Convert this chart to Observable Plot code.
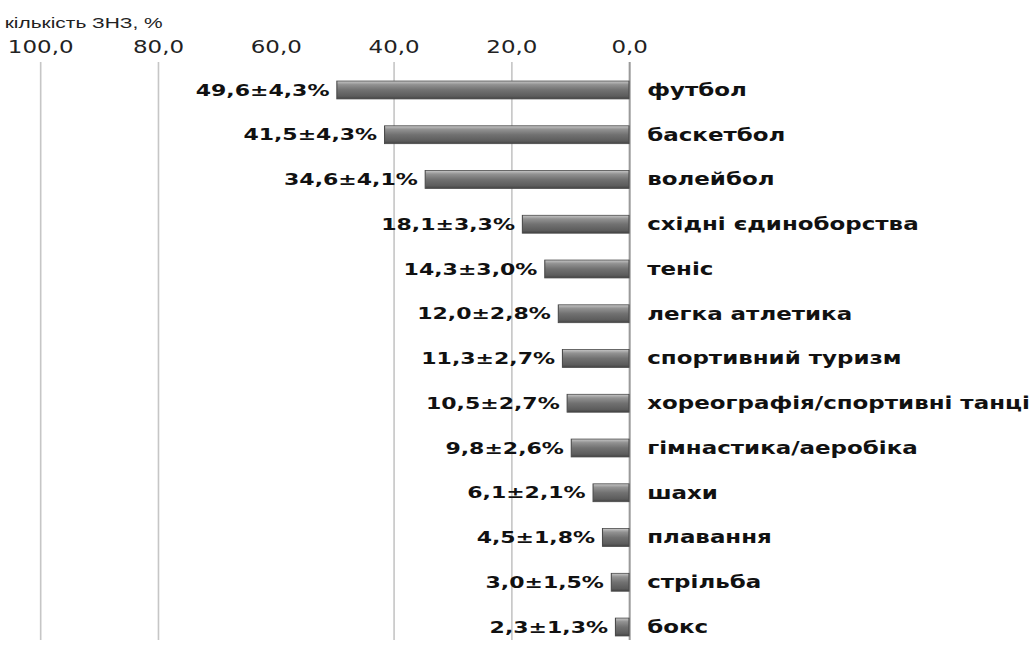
<!DOCTYPE html>
<html>
<head>
<meta charset="utf-8">
<script src="https://cdn.jsdelivr.net/npm/d3@7"></script>
<script src="https://cdn.jsdelivr.net/npm/@observablehq/plot@0.6"></script>
<style>
  html, body { margin: 0; padding: 0; background: #fff; }
  #chart { width: 1032px; height: 645px; overflow: hidden; }
</style>
</head>
<body>
<div id="chart"></div>
<script>
const sports = ["футбол", "баскетбол", "волейбол", "східні єдиноборства", "теніс", "легка атлетика", "спортивний туризм", "хореографія/спортивні танці", "гімнастика/аеробіка", "шахи", "плавання", "стрільба", "бокс"];
const values = [49.6, 41.5, 34.6, 18.1, 14.3, 12.0, 11.3, 10.5, 9.8, 6.1, 4.5, 3.0, 2.3];
const errors = [4.3, 4.3, 4.1, 3.3, 3.0, 2.8, 2.7, 2.7, 2.6, 2.1, 1.8, 1.5, 1.3];
const tickValues = [100, 80, 60, 40, 20, 0];
const gridValues = [100, 80, 40, 20];
const axisTitle = "кількість ЗНЗ, %";

const fmt = v => v.toFixed(1).replace(".", ",");
const data = sports.map((s, i) => ({sport: s, value: values[i], label: `${fmt(values[i])}±${fmt(errors[i])}%`}));

// The reference is horizontally stretched; design in narrower coords and stretch
const SX = 1.35;
const W = 1032 / SX;

const defs = () => {
  const ns = "http://www.w3.org/2000/svg";
  const d = document.createElementNS(ns, "defs");
  d.innerHTML = `<linearGradient id="barGrad" x1="0" y1="0" x2="0" y2="1">
    <stop offset="0" stop-color="#c8c8c8"/>
    <stop offset="0.2" stop-color="#929292"/>
    <stop offset="0.5" stop-color="#717171"/>
    <stop offset="0.85" stop-color="#5c5c5c"/>
    <stop offset="1" stop-color="#424242"/>
  </linearGradient>`;
  return d;
};

const svg = Plot.plot({
  width: W,
  height: 645,
  marginLeft: 40 / SX,
  marginRight: (1032 - 629) / SX,
  marginTop: 62,
  marginBottom: 5,
  style: {fontFamily: "DejaVu Sans", background: "#fff"},
  x: {domain: [100, 0], range: [40 / SX, 629 / SX]},
  y: {domain: sports, range: [67.6, 649.4], paddingInner: 0.6, paddingOuter: 0.3, round: false, axis: null},
  marks: [
    defs,
    Plot.ruleX(gridValues, {stroke: "#c6c6c6", strokeWidth: 1.2}),
    Plot.ruleX([0], {stroke: "#9a9a9a", strokeWidth: 1.5}),
    Plot.axisX({anchor: "top", ticks: tickValues, tickSize: 0, tickPadding: 10, tickFormat: fmt, fontSize: 17, fill: "#222", label: null}),
    Plot.barX(data, {x: "value", y: "sport", fill: "url(#barGrad)", stroke: "#4a4a4a", strokeWidth: 0.8}),
    Plot.text(data, {x: "value", y: "sport", text: "label", textAnchor: "end", dx: -6, fontSize: 16.3, fontWeight: "bold", fill: "#111"}),
    Plot.text(data, {x: 0, y: "sport", text: "sport", textAnchor: "start", dx: 13, fontSize: 17, fontWeight: "bold", fill: "#111"}),
    Plot.text([axisTitle], {frameAnchor: "top-left", dx: 4 / SX - 40 / SX, dy: -46, text: d => d, textAnchor: "start", fontSize: 15.5, fontFamily: "Liberation Sans", fill: "#222"})
  ]
});

svg.setAttribute("width", 1032);
svg.setAttribute("height", 645);
svg.setAttribute("preserveAspectRatio", "none");
svg.style.width = "1032px";
svg.style.height = "645px";
svg.style.maxWidth = "none";
document.getElementById("chart").appendChild(svg);
</script>
</body>
</html>
